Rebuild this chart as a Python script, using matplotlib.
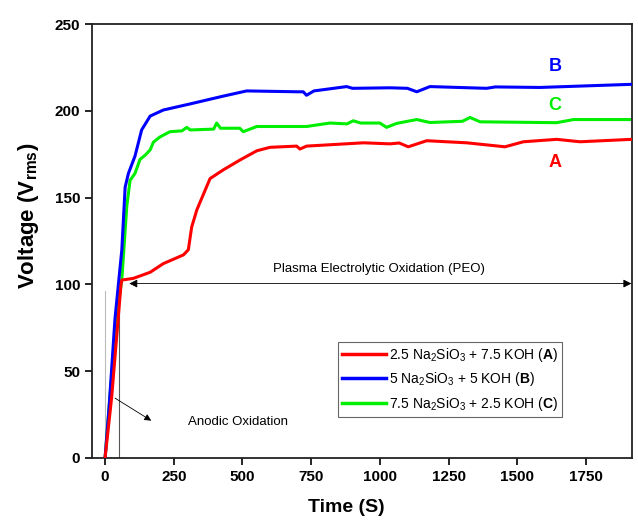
#!/usr/bin/env python3
from matplotlib import pyplot as plt

plt.rcParams['font.family'] = ['Liberation Sans', 'DejaVu Sans']
plt.rcParams['mathtext.fontset'] = 'custom'
plt.rcParams['mathtext.rm'] = 'Liberation Sans'
plt.rcParams['mathtext.it'] = 'Liberation Sans:italic'
plt.rcParams['mathtext.bf'] = 'Liberation Sans:bold'

outputImage = "out.png"

# sample A: 2.5 Na2SiO3 + 7.5 KOH
time_a = [0, 24, 58, 61, 103, 164, 212, 285, 303, 315, 334, 382, 430, 491, 552,
          600, 697, 709, 733, 940, 1037, 1070, 1103, 1170, 1316, 1455, 1522,
          1643, 1728, 1916]
volt_a = [0, 35, 100, 102.5, 103.5, 107, 112, 117, 120, 133, 143, 161, 166, 171.7,
          177, 179, 179.7, 178, 179.7, 181.6, 181, 181.5, 179.3, 182.8, 181.6,
          179.3, 182.2, 183.6, 182.2, 183.6]

# sample B: 5 Na2SiO3 + 5 KOH
time_b = [0, 15, 36, 61, 73, 85, 109, 133, 164, 212, 309, 430, 515, 700, 721, 733,
          760, 879, 900, 1037, 1100, 1134, 1182, 1388, 1420, 1582, 1916]
volt_b = [0, 30, 80, 120, 156, 164, 174, 189, 197, 200.5, 204, 208.5, 211.5, 211,
          211, 209, 211.5, 214, 213, 213.3, 213, 211, 214, 213, 213.8, 213.5, 215.3]

# sample C: 7.5 Na2SiO3 + 2.5 KOH
time_c = [0, 20, 45, 61, 79, 91, 109, 127, 146, 164, 176, 200, 236, 280, 297, 310,
          395, 406, 420, 490, 503, 552, 733, 818, 880, 903, 930, 1000, 1024, 1061,
          1134, 1182, 1300, 1328, 1364, 1643, 1704, 1916]
volt_c = [0, 40, 85, 103, 145, 160, 164, 172, 174.5, 177.5, 182, 185, 188, 188.5,
          190.5, 189, 189.5, 193, 190, 190, 188, 191, 191, 193, 192.5, 194.3, 193,
          193, 190.5, 192.8, 195, 193.3, 194, 196.2, 193.7, 193.2, 195, 195]

x_ticks = [0, 250, 500, 750, 1000, 1250, 1500, 1750]
y_ticks = [0, 50, 100, 150, 200, 250]


def plotData():
    fig = plt.figure(figsize=(6.38, 5.24), dpi=100)
    ax = fig.add_axes([0.144, 0.126, 0.847, 0.828])

    ax.plot(time_a, volt_a, color='#ff0000', lw=2.2, zorder=4,
            label=r'2.5 Na$_2$SiO$_3$ + 7.5 KOH ($\mathbf{A}$)')
    ax.plot(time_b, volt_b, color='#0000ff', lw=2.2, zorder=3,
            label=r'5 Na$_2$SiO$_3$ + 5 KOH ($\mathbf{B}$)')
    ax.plot(time_c, volt_c, color='#00ee00', lw=2.2, zorder=2,
            label=r'7.5 Na$_2$SiO$_3$ + 2.5 KOH ($\mathbf{C}$)')

    # guide lines
    ax.plot([0, 0], [0, 96], color='#bbbbbb', lw=0.8, zorder=1)
    ax.plot([52, 52], [0, 100], color='#555555', lw=0.8, zorder=1)
    ax.annotate('', xy=(88, 100.5), xytext=(1915, 100.5),
                arrowprops=dict(arrowstyle='<|-|>', color='black', lw=0.6,
                                mutation_scale=12, shrinkA=0, shrinkB=0))
    ax.text(995, 109, 'Plasma Electrolytic Oxidation (PEO)', fontsize=9.5,
            ha='center', va='center')
    ax.annotate('', xy=(168, 21.5), xytext=(36, 34.5),
                arrowprops=dict(arrowstyle='-|>', color='black', lw=0.6,
                                mutation_scale=10, shrinkA=0, shrinkB=0))
    ax.text(300, 21, 'Anodic Oxidation', fontsize=9.5, ha='left', va='center')

    ax.text(1637, 225.5, 'B', color='#0000ff', fontsize=13, fontweight='bold',
            ha='center', va='center')
    ax.text(1637, 203, 'C', color='#00ee00', fontsize=13, fontweight='bold',
            ha='center', va='center')
    ax.text(1637, 170.5, 'A', color='#ff0000', fontsize=13, fontweight='bold',
            ha='center', va='center')

    ax.set_xlim(-48, 1918)
    ax.set_ylim(0, 250)
    ax.set_xticks(x_ticks)
    ax.set_yticks(y_ticks)
    ax.tick_params(direction='out', length=5, width=1.2, labelsize=11)
    for lab in ax.get_xticklabels() + ax.get_yticklabels():
        lab.set_fontweight('bold')
    for sp in ax.spines.values():
        sp.set_linewidth(1.3)
        sp.set_color('#222222')

    ax.set_xlabel('Time (S)', fontsize=14, fontweight='bold')
    ax.set_ylabel(r'Voltage (V$_{\mathbf{rms}}$)', fontsize=16,
                  fontweight='bold')
    ax.xaxis.set_label_coords(0.47, -0.095)
    ax.yaxis.set_label_coords(-0.095, 0.558)

    leg = ax.legend(loc='lower left', bbox_to_anchor=(0.455, 0.095),
                    fontsize=10, handlelength=3.2, handletextpad=0.2,
                    borderpad=0.3, labelspacing=0.45, fancybox=False,
                    framealpha=1, borderaxespad=0)
    leg.get_frame().set_edgecolor('#666666')
    leg.get_frame().set_linewidth(0.8)
    for line in leg.get_lines():
        line.set_linewidth(2.5)

    fig.savefig(outputImage, dpi=100)
    plt.close()


def main():
    plotData()


if __name__ == '__main__':
    main()
